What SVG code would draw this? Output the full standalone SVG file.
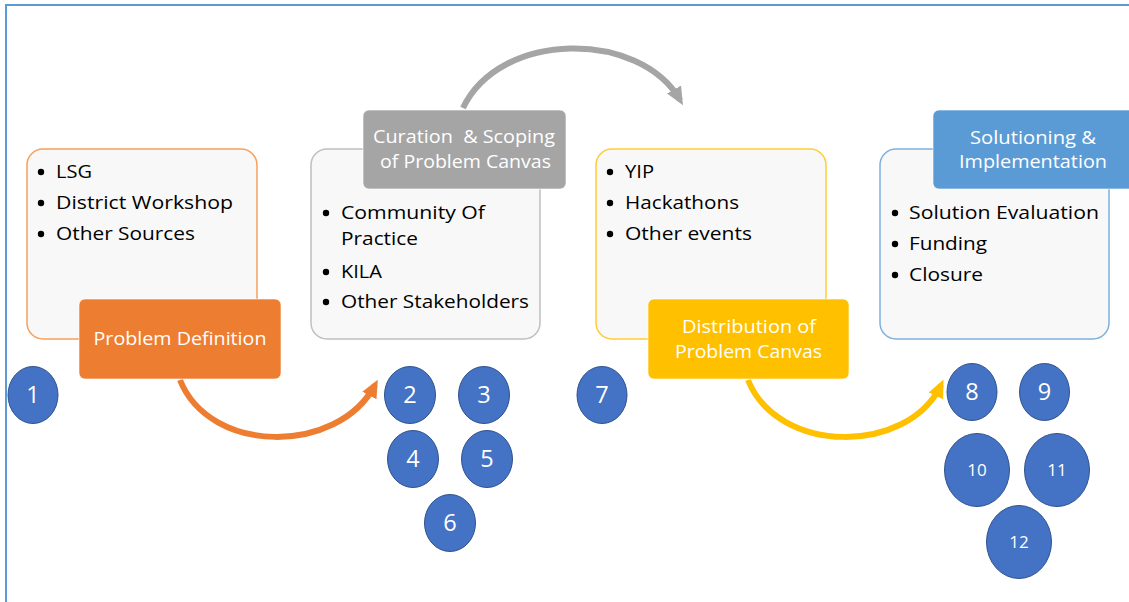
<svg xmlns="http://www.w3.org/2000/svg" width="1129" height="602" viewBox="0 0 1129 602">
<defs>
<marker id="mGray" markerUnits="userSpaceOnUse" markerWidth="18" markerHeight="18" viewBox="0 0 18 18" refX="12" refY="9" orient="auto"><path d="M0,1 L18,9 L0,17 z" fill="#A5A5A5"/></marker>
<marker id="mOrange" markerUnits="userSpaceOnUse" markerWidth="18" markerHeight="18" viewBox="0 0 18 18" refX="12" refY="9" orient="auto"><path d="M0,1 L18,9 L0,17 z" fill="#ED7D31"/></marker>
<marker id="mYellow" markerUnits="userSpaceOnUse" markerWidth="18" markerHeight="18" viewBox="0 0 18 18" refX="12" refY="9" orient="auto"><path d="M0,1 L18,9 L0,17 z" fill="#FFC000"/></marker>
</defs>
<style>
.box{fill:#F8F8F8;stroke-width:1.5}
.hdr{stroke:#FFFFFF;stroke-opacity:0.6;stroke-width:1}
.ht{font-family:"Open Sans","Liberation Sans",sans-serif;font-size:18.5px;fill:#FFFFFF;text-anchor:middle;white-space:pre}
.bt{font-family:"Open Sans","Liberation Sans",sans-serif;font-size:18.5px;fill:#000000}
.dot{fill:#000000}
.num{fill:#4472C4;stroke:#2F528F;stroke-width:1}
.nt{font-family:"Open Sans","Liberation Sans",sans-serif;fill:#FFFFFF;text-anchor:middle}
.n1{font-size:23.5px}
.n2{font-size:17px}
.arc{fill:none;stroke-width:6}
</style>
<rect x="6" y="5" width="1140" height="620" fill="#FFFFFF" stroke="#5B9BD5" stroke-width="2"/>

<g id="connectors">
<path class="arc" d="M463,108 C500,30 640,30 680,100" stroke="#A5A5A5" marker-end="url(#mGray)"/>
<path class="arc" d="M180,380 C210,455 338,455 375,385" stroke="#ED7D31" marker-end="url(#mOrange)"/>
<path class="arc" d="M748,380 C778,455 908,455 941,385" stroke="#FFC000" marker-end="url(#mYellow)"/>
</g>

<g id="stage1">
<rect class="box" x="27" y="149" width="230" height="190" rx="16" stroke="#F5A05C"/>
<circle class="dot" cx="41" cy="172" r="3.2"/>
<text class="bt" x="56" y="178" textLength="36" lengthAdjust="spacingAndGlyphs">LSG</text>
<circle class="dot" cx="41" cy="203" r="3.2"/>
<text class="bt" x="56" y="209" textLength="177" lengthAdjust="spacingAndGlyphs">District Workshop</text>
<circle class="dot" cx="41" cy="234" r="3.2"/>
<text class="bt" x="56" y="240" textLength="139" lengthAdjust="spacingAndGlyphs">Other Sources</text>
</g>
<g id="problem-definition">
<rect class="hdr" x="79" y="299" width="202" height="80" rx="6" fill="#ED7D31"/>
<text class="ht" x="180" y="345" textLength="173" lengthAdjust="spacingAndGlyphs">Problem Definition</text>
</g>

<g id="stage2">
<rect class="box" x="311" y="149" width="229" height="190" rx="16" stroke="#BFBFBF"/>
<circle class="dot" cx="326" cy="213" r="3.2"/>
<text class="bt" x="341" y="219" textLength="144" lengthAdjust="spacingAndGlyphs">Community Of</text>
<text class="bt" x="341" y="245" textLength="77" lengthAdjust="spacingAndGlyphs">Practice</text>
<circle class="dot" cx="326" cy="272" r="3.2"/>
<text class="bt" x="341" y="278" textLength="41" lengthAdjust="spacingAndGlyphs">KILA</text>
<circle class="dot" cx="326" cy="302" r="3.2"/>
<text class="bt" x="341" y="308" textLength="188" lengthAdjust="spacingAndGlyphs">Other Stakeholders</text>
</g>
<g id="curation">
<rect class="hdr" x="363" y="110" width="203" height="79" rx="6" fill="#A5A5A5"/>
<text class="ht" x="464" y="143" textLength="182" lengthAdjust="spacingAndGlyphs" xml:space="preserve">Curation  &amp; Scoping</text>
<text class="ht" x="465.5" y="168" textLength="171" lengthAdjust="spacingAndGlyphs">of Problem Canvas</text>
</g>

<g id="stage3">
<rect class="box" x="596" y="149" width="230" height="190" rx="16" stroke="#FFCC33"/>
<circle class="dot" cx="610" cy="172" r="3.2"/>
<text class="bt" x="625" y="178" textLength="29" lengthAdjust="spacingAndGlyphs">YIP</text>
<circle class="dot" cx="610" cy="203" r="3.2"/>
<text class="bt" x="625" y="209" textLength="114" lengthAdjust="spacingAndGlyphs">Hackathons</text>
<circle class="dot" cx="610" cy="234" r="3.2"/>
<text class="bt" x="625" y="240" textLength="127" lengthAdjust="spacingAndGlyphs">Other events</text>
</g>
<g id="distribution">
<rect class="hdr" x="648" y="299" width="201" height="80" rx="6" fill="#FFC000"/>
<text class="ht" x="749" y="333" textLength="134" lengthAdjust="spacingAndGlyphs">Distribution of</text>
<text class="ht" x="748.5" y="358" textLength="147" lengthAdjust="spacingAndGlyphs">Problem Canvas</text>
</g>

<g id="stage4">
<rect class="box" x="880" y="149" width="229" height="190" rx="16" stroke="#7EB0DE"/>
<circle class="dot" cx="895" cy="213" r="3.2"/>
<text class="bt" x="909" y="219" textLength="190" lengthAdjust="spacingAndGlyphs">Solution Evaluation</text>
<circle class="dot" cx="895" cy="244" r="3.2"/>
<text class="bt" x="909" y="250" textLength="78" lengthAdjust="spacingAndGlyphs">Funding</text>
<circle class="dot" cx="895" cy="275" r="3.2"/>
<text class="bt" x="909" y="281" textLength="74" lengthAdjust="spacingAndGlyphs">Closure</text>
</g>
<g id="solutioning">
<rect class="hdr" x="933" y="110" width="210" height="79" rx="6" fill="#5B9BD5"/>
<text class="ht" x="1033" y="144" textLength="126" lengthAdjust="spacingAndGlyphs">Solutioning &amp;</text>
<text class="ht" x="1033" y="168" textLength="148" lengthAdjust="spacingAndGlyphs">Implementation</text>
</g>

<g id="n1"><ellipse class="num" cx="33" cy="395" rx="25" ry="28.5"/><text class="nt n1" x="33" y="403">1</text></g>
<g id="n2"><ellipse class="num" cx="410" cy="395" rx="25.5" ry="28.5"/><text class="nt n1" x="410" y="403">2</text></g>
<g id="n3"><ellipse class="num" cx="484" cy="395" rx="25.5" ry="28.5"/><text class="nt n1" x="484" y="403">3</text></g>
<g id="n4"><ellipse class="num" cx="413" cy="459" rx="25.5" ry="28.5"/><text class="nt n1" x="413" y="467">4</text></g>
<g id="n5"><ellipse class="num" cx="487" cy="459" rx="25.5" ry="28.5"/><text class="nt n1" x="487" y="467">5</text></g>
<g id="n6"><ellipse class="num" cx="450" cy="523" rx="25.5" ry="28.5"/><text class="nt n1" x="450" y="531">6</text></g>
<g id="n7"><ellipse class="num" cx="602" cy="395" rx="25" ry="28.5"/><text class="nt n1" x="602" y="403">7</text></g>
<g id="n8"><ellipse class="num" cx="972" cy="392" rx="25" ry="28.5"/><text class="nt n1" x="972" y="400">8</text></g>
<g id="n9"><ellipse class="num" cx="1044.5" cy="392" rx="25" ry="28.5"/><text class="nt n1" x="1044.5" y="400">9</text></g>
<g id="n10"><ellipse class="num" cx="977" cy="470" rx="32.5" ry="36.5"/><text class="nt n2" x="977" y="476">10</text></g>
<g id="n11"><ellipse class="num" cx="1057" cy="470" rx="32.5" ry="36.5"/><text class="nt n2" x="1057" y="476">11</text></g>
<g id="n12"><ellipse class="num" cx="1019" cy="542" rx="32.5" ry="36.5"/><text class="nt n2" x="1019" y="548">12</text></g>
</svg>
